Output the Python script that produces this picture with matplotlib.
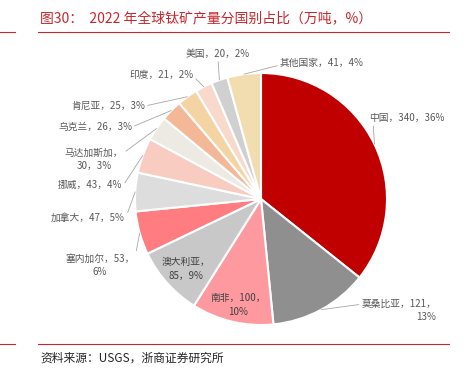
import numpy as np
import matplotlib
matplotlib.use("Agg")
import matplotlib.pyplot as plt
from matplotlib.lines import Line2D

plt.rcParams["font.family"] = ["Noto Sans CJK SC", "DejaVu Sans"]

countries = ["中国", "莫桑比亚", "南非", "澳大利亚", "塞内加尔", "加拿大", "挪威",
             "马达加斯加", "乌克兰", "肯尼亚", "印度", "美国", "其他国家"]
output = [340, 121, 100, 85, 53, 47, 43, 30, 26, 25, 21, 20, 41]
shares = [36, 13, 10, 9, 6, 5, 4, 3, 3, 3, 2, 2, 4]
colors = ["#C00000", "#8F8F8F", "#FF99A0", "#C8C8C8", "#FF7C80", "#DDDDDD", "#F8CCC0",
          "#EDEAE4", "#F4B898", "#F3D4A2", "#F8DACC", "#D0D0D0", "#F2DDB0"]

# label text centres in pixels, where the line break goes, anchor of leader line on the text box
label_px = [(407, 118), (399, 310), (238, 305), (186, 269), (100, 265), (88, 218), (90, 185),
            (94, 159), (95, 127), (108, 106), (161, 75), (218, 54), (322, 63)]
label_break = [None, 2, 2, 1, 2, None, None, 1, None, None, None, None, None]
label_rel = [(0.05, 0), (0, 0.75), None, None, (1, 0.75), (1, 0.3), (1, 0.3),
             (1, 0.75), (1, 0.5), (1, 0.5), (1, 0.4), (0.5, 0), (0, 0.3)]

W, H = 466, 371
cx, cy, r = 261, 199, 126

fig = plt.figure(figsize=(W / 100, H / 100), dpi=100)
ax = fig.add_axes([0, 0, 1, 1])
wedges, _ = ax.pie(output, colors=colors, startangle=90, counterclock=False,
                   wedgeprops=dict(edgecolor="white", linewidth=1.5))
ax.set_xlim(-cx / r, (W - cx) / r)
ax.set_ylim((cy - H) / r, cy / r)
ax.set_aspect("auto")
ax.axis("off")


def to_data(px, py):
    return (px - cx) / r, (cy - py) / r


for i, w in enumerate(wedges):
    parts = [countries[i], str(output[i]), f"{shares[i]}%"]
    b = label_break[i]
    if b is None:
        txt = "，".join(parts)
    else:
        txt = "，".join(parts[:b]) + "，\n" + "，".join(parts[b:])
    tx, ty = to_data(*label_px[i])
    if label_rel[i] is None:
        ax.text(tx, ty, txt, ha="center", va="center", fontsize=7, color="#404040",
                linespacing=1.4)
        continue
    mid = np.deg2rad((w.theta1 + w.theta2) / 2)
    ex, ey = np.cos(mid), np.sin(mid)
    ma = "right" if i == 1 else "center"
    ax.annotate(txt, xy=(ex, ey), xytext=(tx, ty), ha="center", va="center",
                multialignment=ma, fontsize=7, color="#595959", linespacing=1.4,
                arrowprops=dict(arrowstyle="-", color="#A6A6A6", lw=0.6,
                                relpos=label_rel[i], shrinkA=0, shrinkB=0))

red = "#C8262C"
fig.text(40 / W, 1 - 18 / H, "图30：  2022 年全球钛矿产量分国别占比（万吨，%）",
         fontsize=10, color=red, ha="left", va="center")
for y in (32, 344):
    fig.add_artist(Line2D([0, 15 / W], [1 - y / H] * 2, color=red, lw=0.8))
    fig.add_artist(Line2D([38 / W, 449 / W], [1 - y / H] * 2, color=red, lw=0.8))
fig.text(40 / W, 1 - 358 / H, "资料来源：USGS，浙商证券研究所",
         fontsize=8.5, color="#262626", ha="left", va="center")

fig.savefig("out.png", dpi=100)
